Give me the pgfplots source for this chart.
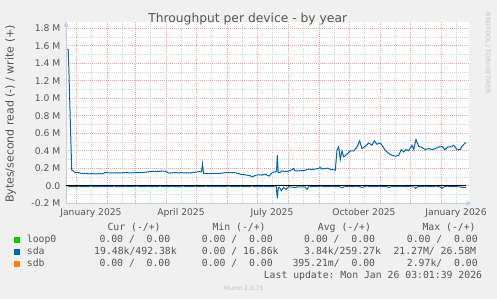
\documentclass[border=0pt]{standalone}
\usepackage{fontspec}
\setmainfont{DejaVu Sans}
\setmonofont{DejaVu Sans Mono}
\usepackage{pgfplots}
\pgfplotsset{compat=1.18}
\usetikzlibrary{arrows.meta}
\definecolor{bg}{HTML}{F0F0F0}
\definecolor{txt}{HTML}{555555}
\definecolor{mgrid}{HTML}{E8A4A4}
\definecolor{ngrid}{HTML}{D4D4D4}
\definecolor{axcol}{HTML}{C4CCEE}
\definecolor{cloop}{HTML}{00CC00}
\definecolor{csda}{HTML}{0066B3}
\definecolor{csdb}{HTML}{FF8000}
\definecolor{wm}{HTML}{C0C0C0}
\newcommand\lgf{\fontsize{9.8}{11}\selectfont\ttfamily}
\begin{document}
\frenchspacing
\begin{tikzpicture}
\fill[bg] (0pt,0pt) rectangle (497pt,299pt);
\begin{axis}[
  at={(76pt,113.3pt)}, anchor=origin,
  scale only axis, width=402.5pt, height=181.5pt,
  xmin=-10, xmax=392.5, ymin=-0.2, ymax=1.874,
  axis x line=bottom, axis y line=left,
  axis line style={draw=axcol, line width=0.8pt, -{Triangle[length=5pt,width=5pt]}},
  x axis line style={shorten >=-3pt},
  axis background/.style={fill=white},
  xtick={0,31,59,90,120,151,181,212,243,273,304,334,365},
  xticklabels={},
  minor xtick={15,46,74,105,135,166,196,227,258,288,319,349,380},
  extra x ticks={15,105,196,288,380},
  extra x tick labels={January 2025,April 2025,July 2025,October 2025,January 2026},
  extra x tick style={grid=none},
  ytick={-0.2,0,0.2,0.4,0.6,0.8,1.0,1.2,1.4,1.6,1.8},
  yticklabels={-0.2 M,0.0,0.2 M,0.4 M,0.6 M,0.8 M,1.0 M,1.2 M,1.4 M,1.6 M,1.8 M},
  minor ytick={-0.1,0.1,0.3,0.5,0.7,0.9,1.1,1.3,1.5,1.7},
  grid=both,
  major grid style={draw=mgrid, line width=0.6pt, dash pattern=on 1pt off 1pt},
  minor grid style={draw=ngrid, line width=0.6pt, dash pattern=on 1pt off 1pt},
  major tick length=0pt, minor tick length=0pt,
  ticklabel style={font=\fontsize{9.2}{10}\selectfont, text=txt, inner sep=0pt},
  yticklabel style={anchor=east, xshift=-5.5pt},
  xticklabel style={anchor=north, yshift=-5pt},
]
\addplot[cloop, line width=1pt] coordinates {(-8.7,0) (390,0)};
\addplot[csda, line width=1pt] coordinates {
(-8.7,1.562) (-7.7,1.55) (-4.3,0.18) (-3,0.172) (-1,0.152) (1,0.15) (3,0.148) (6,0.138) (9,0.14) (12,0.136) (16,0.137) (20,0.136) (24,0.137) (27,0.136) (29,0.15) (32,0.148) (36,0.146) (40,0.148) (44,0.145) (48,0.149) (52,0.148) (56,0.146) (60,0.15) (64,0.149) (67,0.152) (70,0.155) (73,0.16) (76,0.162) (79,0.165) (82,0.163) (85,0.166) (89,0.167) (91,0.155) (93,0.143) (96,0.146) (99,0.15) (102,0.147) (105,0.149) (108,0.146) (111,0.148) (114,0.145) (117,0.15) (120,0.155) (123,0.16) (125.5,0.158) (126.5,0.25) (127.5,0.14) (130,0.142) (133,0.138) (137,0.14) (141,0.14) (145,0.142) (149,0.148) (153,0.152) (156,0.149) (159,0.148) (162,0.14) (165,0.13) (168,0.126) (171,0.12) (174,0.115) (176,0.102) (178,0.11) (180,0.12) (183,0.125) (186,0.121) (189,0.133) (191,0.12) (193,0.11) (196,0.148) (199,0.159) (200.5,0.16) (201.3,0.348) (202.3,0.148) (204,0.15) (206,0.17) (209,0.162) (212.7,0.167) (215,0.175) (217.7,0.197) (219,0.17) (222.7,0.17) (225,0.175) (227.7,0.17) (230,0.18) (232.7,0.19) (236,0.185) (239.3,0.19) (242,0.195) (244.3,0.208) (246,0.19) (249.3,0.197) (252,0.2) (254.3,0.186) (257,0.182) (259.3,0.178) (261,0.405) (262.7,0.443) (264.3,0.3) (266,0.398) (267.7,0.33) (271,0.36) (274.3,0.398) (277.7,0.398) (281,0.443) (283.7,0.511) (286,0.424) (289.3,0.45) (292.7,0.489) (296,0.462) (298.3,0.511) (301,0.473) (304.3,0.489) (306.7,0.45) (309.3,0.405) (312.7,0.367) (316,0.348) (319.3,0.337) (322.7,0.348) (325.3,0.413) (327.7,0.386) (330,0.413) (332.7,0.398) (336,0.462) (337.7,0.413) (340,0.527) (342.7,0.45) (346,0.436) (349.3,0.413) (352.7,0.424) (356,0.413) (359.3,0.424) (362.7,0.443) (366,0.45) (368.7,0.413) (372,0.443) (375.3,0.443) (377.7,0.462) (381,0.413) (384.3,0.413) (386,0.45) (389.3,0.489) (390,0.492)};
\addplot[csda, line width=1pt] coordinates {
(-8.7,-0.011) (20,-0.01) (60,-0.012) (100,-0.011) (140,-0.012) (180,-0.011) (195,-0.012) (200.3,-0.012) (201.3,-0.144) (202.3,-0.02) (203.5,-0.02) (205.3,-0.057) (207.7,-0.02) (210,-0.042) (212.7,-0.012) (219.3,-0.02) (222.7,-0.012) (229,-0.014) (231,-0.042) (232.7,-0.012) (250,-0.011) (264,-0.012) (266,-0.023) (268,-0.012) (284,-0.012) (286,-0.02) (288,-0.012) (311,-0.012) (312.7,-0.02) (314.5,-0.012) (338,-0.012) (339.7,-0.03) (341.5,-0.012) (364,-0.012) (366,-0.03) (368,-0.012) (384,-0.012) (386,-0.02) (390,-0.02)};
\addplot[csdb, line width=1pt, dash pattern=on 1.5pt off 10pt] coordinates {(-8.7,-0.005) (390,-0.005)};
\addplot[black, line width=1.4pt] coordinates {(-10,0) (390,0)};
\end{axis}
% title and labels
\node[anchor=base, inner sep=0pt, text=txt, font=\fontsize{12.3}{14}\selectfont] at (247.7pt,276.3pt) {Throughput per device - by year};
\node[rotate=90, inner sep=0pt, text=txt, font=\fontsize{11}{13}\selectfont] at (10.5pt,185pt) {Bytes/second read (-) / write (+)};
\node[rotate=-90, inner sep=0pt, text=wm, font=\fontsize{6.3}{7}\selectfont] at (488pt,245.5pt) {RRDTOOL / TOBI OETIKER};
% legend
\fill[cloop] (14pt,56pt) rectangle (20pt,62pt);
\fill[csda] (14pt,44pt) rectangle (20pt,50pt);
\fill[csdb] (14pt,32.2pt) rectangle (20pt,38.2pt);
\begin{scope}[every node/.style={anchor=base west, inner sep=0pt, text=txt, font=\lgf}]
\node at (107.3pt,68.4pt) {Cur~(-/+)};
\node at (212.3pt,68.4pt) {Min~(-/+)};
\node at (317.7pt,68.4pt) {Avg~(-/+)};
\node at (422.3pt,68.4pt) {Max~(-/+)};
\node at (26.7pt,56.4pt) {loop0};
\node at (99.3pt,56.4pt) {0.00~/~~0.00};
\node at (201.7pt,56.4pt) {0.00~/~~0.00};
\node at (304pt,56.4pt) {0.00~/~~0.00};
\node at (406.7pt,56.4pt) {0.00~/~~0.00};
\node at (26.7pt,44.4pt) {sda};
\node at (94pt,44.4pt) {19.48k/492.38k};
\node at (201.7pt,44.4pt) {0.00~/~16.86k};
\node at (304pt,44.4pt) {3.84k/259.27k};
\node at (393.3pt,44.4pt) {21.27M/~26.58M};
\node at (26.7pt,32.4pt) {sdb};
\node at (99.3pt,32.4pt) {0.00~/~~0.00};
\node at (201.7pt,32.4pt) {0.00~/~~0.00};
\node at (292.3pt,32.4pt) {395.21m/~~0.00};
\node at (406.7pt,32.4pt) {2.97k/~~0.00};
\end{scope}
\node[anchor=base east, inner sep=0pt, text=txt, font=\lgf] at (482.3pt,20.6pt) {Last~update:~Mon~Jan~26~03:01:39~2026};
\node[anchor=base, inner sep=0pt, text=wm, font=\fontsize{6}{7}\selectfont] at (243.7pt,8.5pt) {Munin 2.0.75};
\pgfresetboundingbox
\path[use as bounding box] (0pt,0pt) rectangle (497pt,299pt);
\end{tikzpicture}
\end{document}
